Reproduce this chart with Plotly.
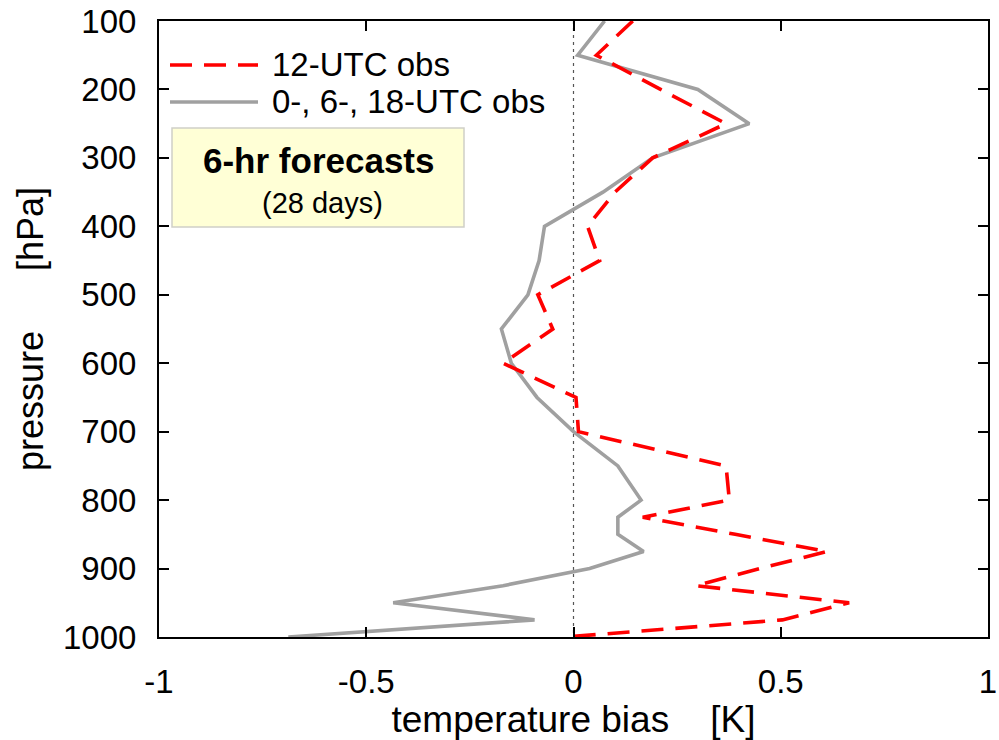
import plotly.graph_objects as go

pressure = [100, 150, 200, 250, 300, 350, 400, 450, 500, 550, 600, 650, 700,
            750, 800, 825, 850, 875, 900, 925, 950, 975, 1000]
bias_12utc = [0.143, 0.055, 0.21, 0.368, 0.191, 0.10, 0.034, 0.063, -0.086, -0.05,
              -0.17, 0.006, 0.012, 0.368, 0.376, 0.167, 0.39, 0.612, 0.45, 0.295,
              0.665, 0.504, -0.018]
bias_other = [0.075, 0.01, 0.30, 0.424, 0.191, 0.071, -0.07, -0.083, -0.11, -0.174,
              -0.15, -0.088, 0.0, 0.107, 0.163, 0.107, 0.107, 0.169, 0.039, -0.17,
              -0.435, -0.094, -0.688]
x_ticks = [-1, -0.5, 0, 0.5, 1]
x_ticklabels = ["-1", "-0.5", "0", "0.5", "1"]
y_ticks = [100, 200, 300, 400, 500, 600, 700, 800, 900, 1000]
names = ["12-UTC obs", "0-, 6-, 18-UTC obs"]

FONT = "Liberation Sans, Arial, sans-serif"
RED = "#ff0000"
GRAY = "#a0a0a0"
NB = "\u00a0"

fig = go.Figure()
fig.add_trace(go.Scatter(x=[0, 0], y=[100, 1000], mode="lines",
                         line=dict(color="#555555", width=1.2, dash="3px,4px"),
                         showlegend=False, hoverinfo="skip"))
fig.add_trace(go.Scatter(x=bias_other, y=pressure, mode="lines", name=names[1],
                         line=dict(color=GRAY, width=3.6), showlegend=False))
fig.add_trace(go.Scatter(x=bias_12utc, y=pressure, mode="lines", name=names[0],
                         line=dict(color=RED, width=3.6, dash="22px,12px"),
                         showlegend=False))

axis_common = dict(showline=True, linecolor="black", linewidth=2, mirror="ticks",
                   ticks="inside", ticklen=10, tickwidth=1.5, tickcolor="black",
                   showgrid=False, zeroline=False, automargin=False,
                   tickfont=dict(family=FONT, size=33, color="black"))

fig.update_xaxes(range=[-1, 1], tickvals=x_ticks, ticktext=x_ticklabels,
                 ticklabelstandoff=14,
                 title=dict(text="temperature bias" + NB * 4 + "[K]",
                            font=dict(family=FONT, size=37, color="black"),
                            standoff=6),
                 **axis_common)
fig.update_yaxes(range=[1000, 100], tickvals=y_ticks,
                 ticklabelstandoff=14,
                 title=dict(text="pressure" + NB * 6 + "[hPa]",
                            font=dict(family=FONT, size=36, color="black"),
                            standoff=8),
                 **axis_common)

# manual legend and label box (paper coordinates)
def px2x(px):
    return (px - 159) / 829

def py2y(py):
    return (637 - py) / 616

shapes = [
    dict(type="line", xref="paper", yref="paper", x0=px2x(170), x1=px2x(258),
         y0=py2y(65), y1=py2y(65), line=dict(color=RED, width=3.6, dash="22px,12px")),
    dict(type="line", xref="paper", yref="paper", x0=px2x(170), x1=px2x(258),
         y0=py2y(102), y1=py2y(102), line=dict(color=GRAY, width=3.6)),
    dict(type="rect", xref="paper", yref="paper", x0=px2x(172), x1=px2x(464),
         y0=py2y(227), y1=py2y(128), fillcolor="#ffffd6",
         line=dict(color="#d0d0c8", width=1.5), layer="below"),
]
annotations = [
    dict(xref="paper", yref="paper", x=px2x(270), y=py2y(65), text=names[0],
         showarrow=False, xanchor="left", yanchor="middle",
         font=dict(family=FONT, size=33, color="black")),
    dict(xref="paper", yref="paper", x=px2x(270), y=py2y(102), text=names[1],
         showarrow=False, xanchor="left", yanchor="middle",
         font=dict(family=FONT, size=33, color="black")),
    dict(xref="paper", yref="paper", x=px2x(318), y=py2y(160), text="<b>6-hr forecasts</b>",
         showarrow=False, xanchor="center", yanchor="middle",
         font=dict(family=FONT, size=35, color="black")),
    dict(xref="paper", yref="paper", x=px2x(322), y=py2y(203), text="(28 days)",
         showarrow=False, xanchor="center", yanchor="middle",
         font=dict(family=FONT, size=29, color="black")),
]

fig.update_layout(width=999, height=740, margin=dict(l=159, r=11, t=21, b=103),
                  plot_bgcolor="white", paper_bgcolor="white",
                  shapes=shapes, annotations=annotations, showlegend=False)

fig.write_html("out.html")
